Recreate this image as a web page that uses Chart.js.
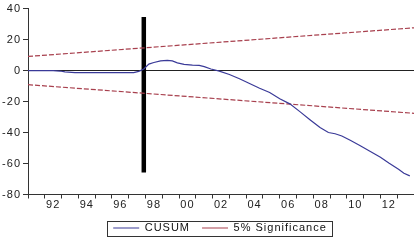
<!DOCTYPE html>
<html>
<head>
<meta charset="utf-8">
<script src="https://cdn.jsdelivr.net/npm/chart.js@4.4.0/dist/chart.umd.min.js"></script>
<style>
  html, body { margin: 0; padding: 0; background: #fff; }
  canvas { display: block; }
</style>
</head>
<body>
<canvas id="c" width="414" height="240"></canvas>
<script>
// CUSUM test values (x = year, decimal)
const cusumYears = [1991.0, 1991.5, 1992.0, 1992.5, 1992.9, 1993.2, 1993.8, 1994.5, 1995.5, 1996.5,
  1997.3, 1997.6, 1997.9, 1998.2, 1998.5, 1998.9, 1999.3, 1999.6, 1999.9, 2000.3,
  2000.8, 2001.2, 2001.5, 2001.9, 2002.4, 2003.0, 2003.6, 2004.2, 2004.8, 2005.4,
  2006.0, 2006.6, 2007.2, 2007.8, 2008.4, 2008.9, 2009.3, 2009.7, 2010.2, 2010.8,
  2011.4, 2012.0, 2012.5, 2013.1, 2013.4, 2013.75];
const cusumValues = [0, 0, 0, 0, -0.3, -0.9, -1.3, -1.3, -1.3, -1.3,
  -1.3, -0.5, 1.0, 4.2, 5.2, 6.3, 6.6, 6.2, 5.0, 4.0,
  3.5, 3.4, 2.5, 1.0, -0.4, -2.5, -5.3, -8.3, -11.4, -14.2,
  -18.2, -21.5, -26.5, -31.7, -36.8, -40.0, -40.8, -42.2, -45.0, -48.5,
  -52.2, -56.0, -59.7, -63.8, -66.3, -68.0];

// 5% significance bounds (straight lines)
const bandYears = [1991, 2014];
const bandUpper = [9.1, 27.6];
const bandLower = [-9.1, -27.6];

// vertical break marker
const breakYears = [1997.9, 1997.9];
const breakValues = [34.5, -65.8];

const yTicks = [-80, -60, -40, -20, 0, 20, 40];
const xMin = 1991, xMax = 2014;

const pts = (xs, ys) => xs.map((x, i) => ({ x: x, y: ys[i] }));

const FONT = "'Liberation Sans', Arial, sans-serif";
const bandColor = '#a8404e';
const cusumColor = '#3a3a98';

const spacingPlugin = {
  id: 'spacing',
  beforeUpdate(chart) { chart.ctx.letterSpacing = '1px'; },
  beforeDraw(chart) { chart.ctx.letterSpacing = '1px'; },
  // legend is centred under the plot area, not the whole canvas
  afterLayout(chart) { chart.legend.left = 26; }
};

const legendBox = {
  id: 'legendBox',
  afterDraw(chart) {
    const hb = chart.legend.legendHitBoxes;
    if (!hb || !hb.length) return;
    const ctx = chart.ctx;
    const l = Math.round(hb[0].left - 6) + 0.5;
    const last = hb[hb.length - 1];
    const r = Math.round(last.left + last.width + 5) + 0.5;
    const t = Math.round(hb[0].top - 2) + 0.5;
    const b = Math.round(hb[0].top + hb[0].height + 2) + 0.5;
    ctx.save();
    ctx.strokeStyle = '#333';
    ctx.lineWidth = 1;
    ctx.strokeRect(l, t, r - l, b - t);
    ctx.restore();
  }
};

new Chart(document.getElementById('c'), {
  type: 'line',
  data: {
    datasets: [
      { label: 'CUSUM', data: pts(cusumYears, cusumValues), borderColor: cusumColor,
        backgroundColor: cusumColor, borderWidth: 1.2 },
      { label: '5% Significance', data: pts(bandYears, bandUpper), borderColor: bandColor,
        backgroundColor: bandColor, borderWidth: 1.2, borderDash: [5, 2] },
      { label: 'lower', data: pts(bandYears, bandLower), borderColor: bandColor,
        borderWidth: 1.2, borderDash: [5, 2] },
      { label: 'break', data: pts(breakYears, breakValues), borderColor: '#000',
        borderWidth: 4.5, borderCapStyle: 'butt' }
    ]
  },
  options: {
    responsive: false,
    animation: false,
    layout: { padding: { left: 0, right: 0, top: 5, bottom: -3.5 } },
    elements: { point: { radius: 0 }, line: { tension: 0 } },
    plugins: {
      tooltip: { enabled: false },
      legend: {
        position: 'bottom',
        labels: {
          filter: (item) => item.datasetIndex < 2,
          usePointStyle: true,
          pointStyle: 'line',
          pointStyleWidth: 26,
          padding: 12,
          color: '#111',
          font: { family: FONT, size: 11 }
        }
      }
    },
    scales: {
      x: {
        type: 'linear',
        min: xMin,
        max: xMax,
        afterFit: (s) => { s.height = 16; },
        afterBuildTicks: (s) => {
          const t = [];
          for (let y = xMin; y <= xMax; y++) t.push({ value: y });
          s.ticks = t;
        },
        border: { color: '#333', width: 1 },
        grid: { drawOnChartArea: false, drawTicks: true, tickLength: 4, color: '#333' },
        ticks: {
          autoSkip: false,
          maxRotation: 0,
          padding: 0,
          labelOffset: 8.4,
          color: '#222',
          font: { family: FONT, size: 11 },
          callback: (v) => (v % 2 === 0 && v < 2013) ? String(v).slice(2) : ''
        }
      },
      y: {
        min: -80,
        max: 40,
        afterFit: (s) => { s.width = 28; },
        afterBuildTicks: (s) => { s.ticks = yTicks.map(v => ({ value: v })); },
        border: { color: '#333', width: 1 },
        grid: {
          drawTicks: true,
          tickLength: 5,
          tickColor: '#333',
          color: (c) => (c.tick && c.tick.value === 0) ? '#222' : 'rgba(0,0,0,0)'
        },
        ticks: {
          padding: 2,
          color: '#222',
          font: { family: FONT, size: 11 }
        }
      }
    }
  },
  plugins: [spacingPlugin, legendBox]
});
</script>
</body>
</html>
